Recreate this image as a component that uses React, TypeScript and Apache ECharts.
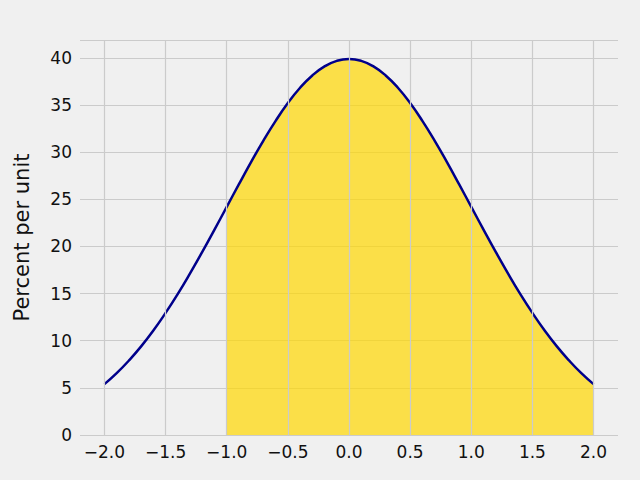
import React, { useEffect, useRef } from "react";
import * as echarts from "echarts";

const xs = [-2.0,-1.9,-1.8,-1.7,-1.6,-1.5,-1.4,-1.3,-1.2,-1.1,-1.0,-0.9,-0.8,-0.7,-0.6,-0.5,-0.4,-0.3,-0.2,-0.1,0.0,0.1,0.2,0.3,0.4,0.5,0.6,0.7,0.8,0.9,1.0,1.1,1.2,1.3,1.4,1.5,1.6,1.7,1.8,1.9,2.0];
const ys = [5.40,6.56,7.90,9.40,11.09,12.95,14.97,17.14,19.42,21.79,24.20,26.61,28.97,31.23,33.32,35.21,36.83,38.14,39.10,39.69,39.89,39.69,39.10,38.14,36.83,35.21,33.32,31.23,28.97,26.61,24.20,21.79,19.42,17.14,14.97,12.95,11.09,9.40,7.90,6.56,5.40];
const xTicks = [-2.0,-1.5,-1.0,-0.5,0.0,0.5,1.0,1.5,2.0];
const fillFrom = -1.0;

const fmt = (v: number) => v.toFixed(1).replace("-", "\u2212");

export default function App() {
  const ref = useRef<HTMLDivElement>(null);
  useEffect(() => {
    const chart = echarts.init(ref.current!, null, { renderer: "svg" });
    const line = xs.map((x, i) => [x, ys[i]]);
    const fill = line.filter((p) => p[0] >= fillFrom - 1e-9);
    chart.setOption({
      animation: false,
      backgroundColor: "#f0f0f0",
      textStyle: { fontFamily: "DejaVu Sans" },
      grid: { left: 80, right: 22, top: 40, bottom: 45 },
      xAxis: {
        type: "value", min: -2.2, max: 2.2,
        axisLine: { show: false }, axisTick: { show: false }, splitLine: { show: false },
        axisLabel: { customValues: xTicks, formatter: fmt, color: "#111", fontSize: 17, margin: 8 },
      },
      yAxis: {
        type: "value", min: 0, max: 41.9, interval: 5,
        name: "Percent per unit", nameLocation: "middle", nameGap: 48,
        nameTextStyle: { fontSize: 21, color: "#111" },
        axisLine: { show: false }, axisTick: { show: false },
        splitLine: { lineStyle: { color: "#cbcbcb", width: 1.2 } },
        axisLabel: { color: "#111", fontSize: 17, margin: 8, showMaxLabel: false },
      },
      series: [
        {
          type: "line", data: fill, symbol: "none", z: 2,
          lineStyle: { width: 0 },
          areaStyle: { color: "gold", opacity: 0.7 },
          markLine: {
            silent: true, symbol: "none", label: { show: false },
            lineStyle: { color: "#cbcbcb", width: 1.2, type: "solid" },
            data: xTicks.map((x) => ({ xAxis: x })),
          },
        },
        {
          type: "line", data: line, symbol: "none", smooth: true, z: 3,
          lineStyle: { color: "#00008b", width: 2.5 },
        },
      ],
    });
    return () => chart.dispose();
  }, []);
  return <div ref={ref} style={{ position: "fixed", left: 0, top: 0, width: 640, height: 480 }} />;
}
